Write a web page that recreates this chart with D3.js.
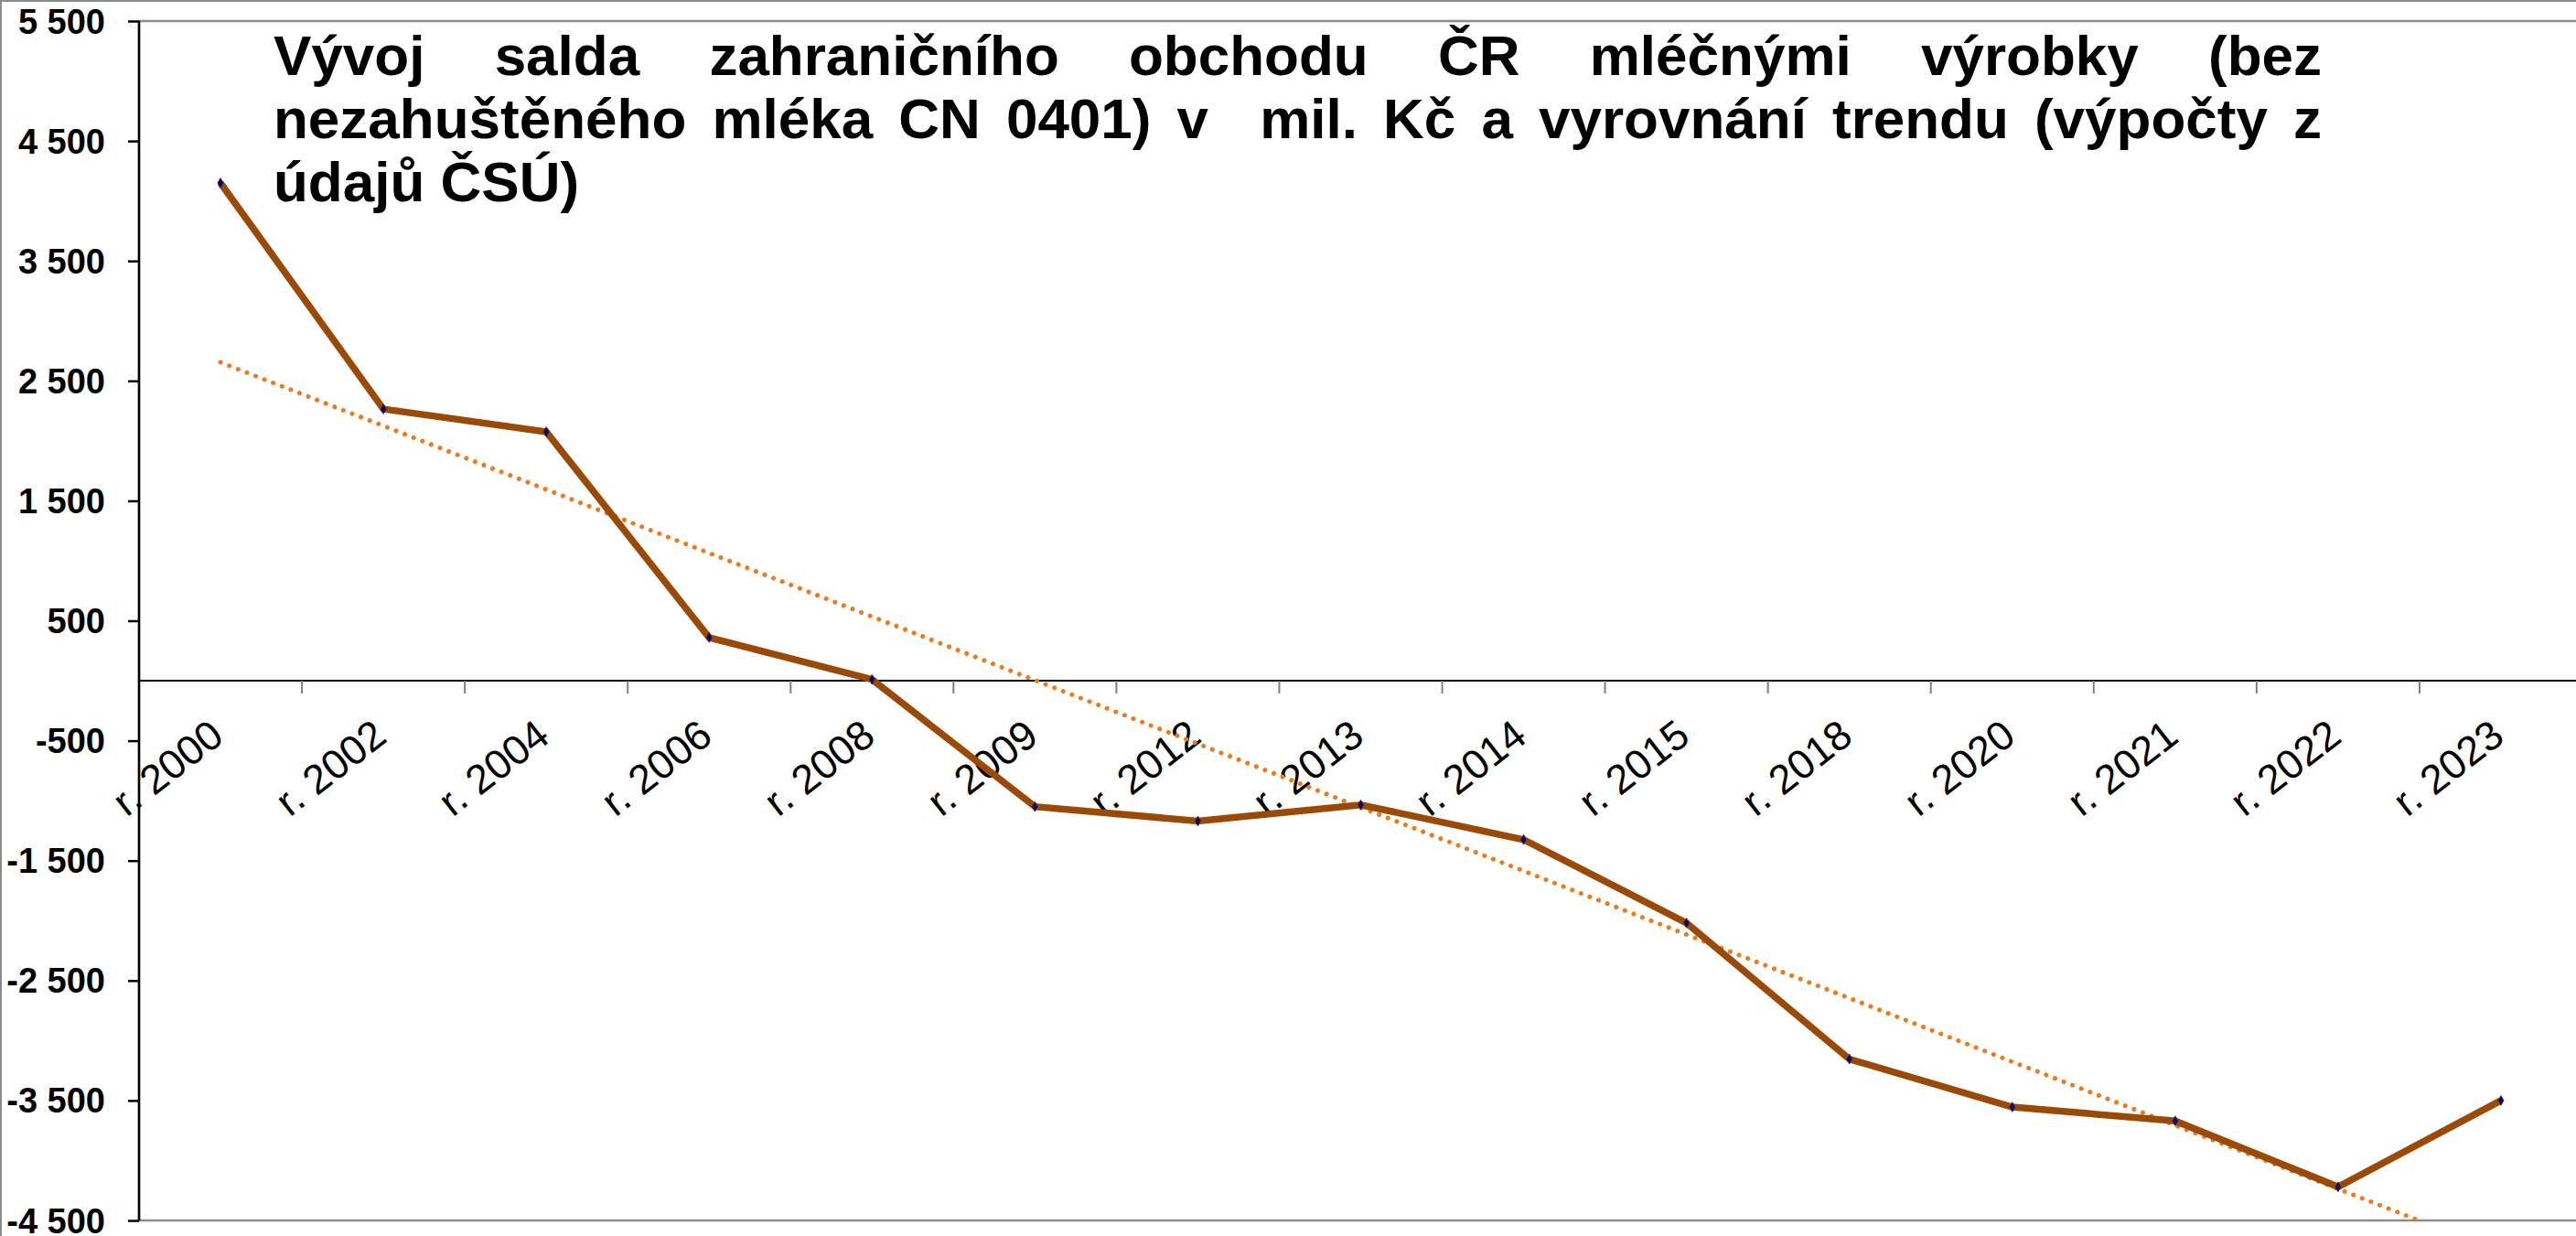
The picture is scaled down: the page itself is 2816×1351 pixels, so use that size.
<!DOCTYPE html>
<html>
<head>
<meta charset="utf-8">
<script src="https://cdn.jsdelivr.net/npm/d3@7"></script>
<style>
  html, body { margin: 0; padding: 0; background: #fff; }
  svg { display: block; font-family: Arial, "Liberation Sans", sans-serif; }
  .frame { stroke: #8c8c8c; fill: none; }
  .series { fill: none; stroke: #9a4a06; stroke-width: 7.5; stroke-linejoin: miter; }
  .trend { fill: none; stroke: #ee7a1c; stroke-width: 5; stroke-linecap: round; stroke-dasharray: 0.1 10.2; }
  .marker { fill: #000080; stroke: #5a2a10; stroke-width: 0.8; }
</style>
</head>
<body>
<div id="plot-container"></div>
<script>
// chart data
var categories = ['r. 2000', 'r. 2002', 'r. 2004', 'r. 2006', 'r. 2008', 'r. 2009', 'r. 2012', 'r. 2013',
                  'r. 2014', 'r. 2015', 'r. 2018', 'r. 2020', 'r. 2021', 'r. 2022', 'r. 2023'];
var saldo = [4150, 2265, 2075, 360, 10, -1050, -1170, -1035, -1325, -2020, -3155, -3555, -3670, -4220, -3500];
var yTickValues = [-4500, -3500, -2500, -1500, -500, 500, 1500, 2500, 3500, 4500, 5500];
var yDomain = [-4500, 5500];
var titleLines = [
  'Vývoj salda zahraničního obchodu ČR mléčnými výrobky (bez',
  'nezahuštěného mléka CN 0401) v  mil. Kč a vyrovnání trendu (výpočty z',
  'údajů ČSÚ)'
];

// layout
var totalWidth = 2816, totalHeight = 1351;
var plotBox = {left: 152, top: 23, right: 2823, bottom: 1334};
var fontFamily = 'Arial, "Liberation Sans", sans-serif';

var svg = d3.select('#plot-container').append('svg')
  .attr('width', totalWidth).attr('height', totalHeight);

var xScale = d3.scaleBand().domain(categories).range([plotBox.left, plotBox.right]).paddingInner(0).paddingOuter(0);
var yScale = d3.scaleLinear().domain(yDomain).range([plotBox.bottom, plotBox.top]);
var xMid = function(c) { return xScale(c) + xScale.bandwidth() / 2; };

var locale = d3.formatLocale({decimal: ',', thousands: ' ', grouping: [3], currency: ['', ' Kč'], minus: '-'});
var fmt = locale.format(',d');

// outer chart frame
svg.append('line').attr('class', 'frame').attr('x1', 0).attr('x2', totalWidth).attr('y1', 1).attr('y2', 1).attr('stroke-width', 2);
svg.append('line').attr('class', 'frame').attr('x1', 1).attr('x2', 1).attr('y1', 0).attr('y2', totalHeight).attr('stroke-width', 2);

// plot area border
svg.append('rect').attr('class', 'frame')
  .attr('x', plotBox.left).attr('y', plotBox.top)
  .attr('width', plotBox.right - plotBox.left).attr('height', plotBox.bottom - plotBox.top)
  .attr('stroke-width', 2.5);

// clip for the series
svg.append('clipPath').attr('id', 'plot-clip').append('rect')
  .attr('x', plotBox.left).attr('y', plotBox.top)
  .attr('width', plotBox.right - plotBox.left).attr('height', plotBox.bottom - plotBox.top);

// Y axis
var yAxis = d3.axisLeft(yScale).tickValues(yTickValues).tickSize(12).tickPadding(0).tickFormat(fmt);
var yAxisG = svg.append('g').attr('transform', 'translate(' + [plotBox.left, 0] + ')').call(yAxis)
  .attr('font-family', fontFamily);
yAxisG.select('.domain').attr('stroke', '#000').attr('stroke-width', 2.5).attr('d', 'M0,' + plotBox.top + 'V' + plotBox.bottom);
yAxisG.selectAll('.tick line').attr('stroke', '#000').attr('stroke-width', 2.5);
yAxisG.selectAll('.tick text')
  .attr('x', -37).attr('dy', null)
  .attr('dominant-baseline', 'central')
  .style('font-family', fontFamily)
  .style('font-size', '38px').style('font-weight', 'bold').attr('fill', '#000');

// X axis crossing at zero
var y0 = yScale(0);
var xAxisG = svg.append('g').attr('transform', 'translate(' + [0, y0] + ')');
xAxisG.append('line').attr('x1', plotBox.left).attr('x2', plotBox.right).attr('stroke', '#000').attr('stroke-width', 2);
xAxisG.selectAll('line.xtick').data(categories.slice(1).concat(['end'])).enter().append('line').attr('class', 'xtick')
  .attr('x1', function(d, i) { return xScale(categories[0]) + (i + 1) * xScale.bandwidth(); })
  .attr('x2', function(d, i) { return xScale(categories[0]) + (i + 1) * xScale.bandwidth(); })
  .attr('y1', 0).attr('y2', 14).attr('stroke', '#808080').attr('stroke-width', 2);
xAxisG.selectAll('text.xlabel').data(categories).enter().append('text').attr('class', 'xlabel')
  .attr('transform', function(d) { return 'translate(' + [xMid(d) + 6, 65] + ') rotate(-38)'; })
  .attr('text-anchor', 'end')
  .style('font-family', fontFamily)
  .style('font-size', '45px').attr('fill', '#000')
  .text(function(d) { return d; });

// linear trend (least squares over category index), as Excel draws it
var idx = d3.range(categories.length);
var mx = d3.mean(idx), my = d3.mean(saldo);
var slope = d3.sum(idx, function(i) { return (i - mx) * (saldo[i] - my); }) / d3.sum(idx, function(i) { return (i - mx) * (i - mx); });
var intercept = my - slope * mx;
var trendPoints = [0, categories.length - 1].map(function(i) { return [xMid(categories[i]), yScale(intercept + slope * i)]; });

var plot = svg.append('g').attr('clip-path', 'url(#plot-clip)');
plot.append('path').attr('class', 'trend').attr('d', d3.line()(trendPoints));

var line = d3.line().x(function(d, i) { return xMid(categories[i]); }).y(function(d) { return yScale(d); });
plot.append('path').attr('class', 'series').attr('d', line(saldo));
plot.selectAll('path.marker').data(saldo).enter().append('path').attr('class', 'marker')
  .attr('transform', function(d, i) { return 'translate(' + [xMid(categories[i]), yScale(d)] + ')'; })
  .attr('d', d3.symbol().type(d3.symbolDiamond).size(34));

// title (justified lines, last line left aligned)
var titleLeft = 299, titleRight = 2538, titleBase = 82, titleStep = 69;
var title = svg.append('g').attr('class', 'title');
titleLines.forEach(function(txt, li) {
  var words = txt.split(' ');
  var t = title.append('text').attr('y', titleBase + li * titleStep)
    .style('font-family', fontFamily)
    .style('font-size', '62px').style('font-weight', 'bold').attr('fill', '#000');
  var spans = words.map(function(w) { return t.append('tspan').text(w); });
  var widths = spans.map(function(s) { return s.text() === '' ? 0 : s.node().getComputedTextLength(); });
  var probe = t.append('tspan').text('a a');
  var probe2 = t.append('tspan').text('aa');
  var spaceW = probe.node().getComputedTextLength() - probe2.node().getComputedTextLength();
  probe.remove(); probe2.remove();
  var gapW = spaceW;
  if (li < titleLines.length - 1) gapW = (titleRight - titleLeft - d3.sum(widths)) / (words.length - 1);
  var x = titleLeft;
  spans.forEach(function(s, i) { s.attr('x', x); x += widths[i] + gapW; });
});
</script>
</body>
</html>
